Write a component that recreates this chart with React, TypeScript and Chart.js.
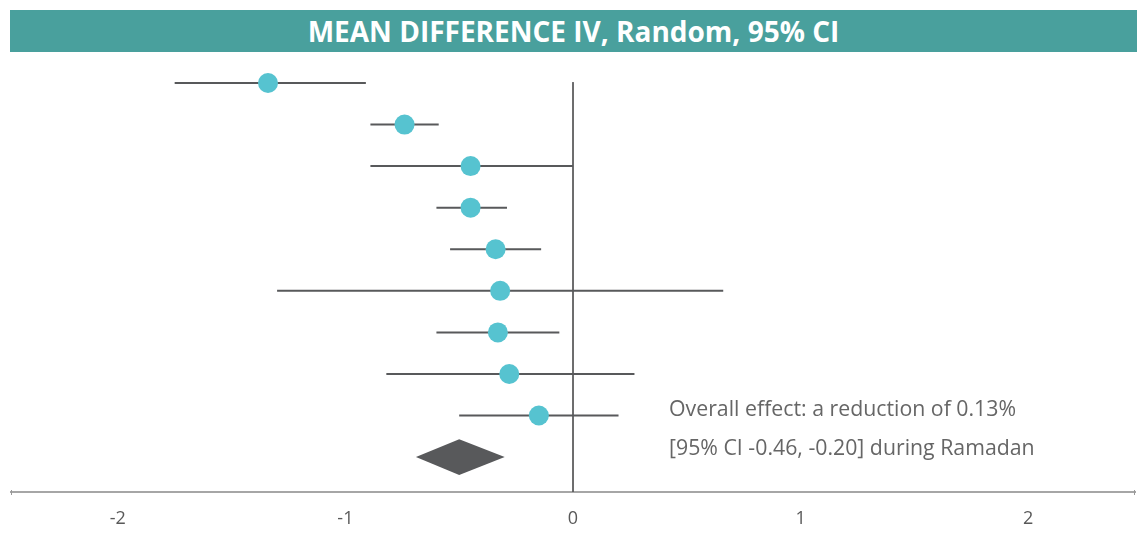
import React, { useEffect, useRef } from "react";
import { Chart, registerables } from "chart.js";

Chart.register(...registerables);

const titleText = "MEAN DIFFERENCE IV, Random, 95% CI";
const studyRows = [0, 1, 2, 3, 4, 5, 6, 7, 8];
const estimates = [-1.34, -0.74, -0.45, -0.45, -0.34, -0.32, -0.33, -0.28, -0.15];
const ciLow = [-1.75, -0.89, -0.89, -0.6, -0.54, -1.3, -0.6, -0.82, -0.5];
const ciHigh = [-0.91, -0.59, 0.0, -0.29, -0.14, 0.66, -0.06, 0.27, 0.2];
const overallRow = 9;
const overallEstimate = -0.5;
const overallLow = -0.69;
const overallHigh = -0.3;
const xTicks = [-2, -1, 0, 1, 2];
const noteLines = [
  "Overall effect: a reduction of 0.13%",
  "[95% CI -0.46, -0.20] during Ramadan",
];

const diamondPlugin = {
  id: "diamond",
  afterDatasetsDraw(chart: any) {
    const { ctx, scales } = chart;
    const xs = scales.x;
    const ys = scales.y;
    const yc = ys.getPixelForValue(overallRow);
    const half = Math.abs(ys.getPixelForValue(overallRow + 0.43) - yc);
    ctx.save();
    ctx.fillStyle = "#58595b";
    ctx.beginPath();
    ctx.moveTo(xs.getPixelForValue(overallLow), yc);
    ctx.lineTo(xs.getPixelForValue(overallEstimate), yc - half);
    ctx.lineTo(xs.getPixelForValue(overallHigh), yc);
    ctx.lineTo(xs.getPixelForValue(overallEstimate), yc + half);
    ctx.closePath();
    ctx.fill();
    const by = ys.bottom;
    ctx.strokeStyle = "#999";
    ctx.lineWidth = 1;
    ctx.beginPath();
    ctx.moveTo(xs.left + 0.5, by - 2);
    ctx.lineTo(xs.left + 0.5, by + 3);
    ctx.moveTo(xs.right - 0.5, by - 2);
    ctx.lineTo(xs.right - 0.5, by + 3);
    ctx.stroke();
    ctx.restore();
  },
};

export default function App() {
  const ref = useRef<HTMLCanvasElement | null>(null);
  useEffect(() => {
    document.body.style.margin = "0";
    const ciData: any[] = [];
    studyRows.forEach((r, i) => {
      ciData.push({ x: ciLow[i], y: r });
      ciData.push({ x: ciHigh[i], y: r });
      ciData.push({ x: ciHigh[i], y: null });
    });
    const chart = new Chart(ref.current as HTMLCanvasElement, {
      type: "scatter",
      data: {
        datasets: [
          {
            type: "scatter",
            data: studyRows.map((r, i) => ({ x: estimates[i], y: r })),
            backgroundColor: "#56c3d0",
            borderWidth: 0,
            pointRadius: 10,
            pointHoverRadius: 10,
            order: 0,
          },
          {
            type: "line",
            data: ciData,
            borderColor: "#58595b",
            borderWidth: 2,
            pointRadius: 0,
            spanGaps: false,
            showLine: true,
            order: 1,
          },
          {
            type: "line",
            data: [
              { x: 0, y: -0.02 },
              { x: 0, y: 9.84 },
            ],
            borderColor: "#58595b",
            borderWidth: 1,
            pointRadius: 0,
            showLine: true,
            order: 2,
          },
        ],
      },
      options: {
        responsive: false,
        animation: false,
        devicePixelRatio: 1,
        layout: { padding: { left: 11, right: 7, top: 62, bottom: 0 } },
        plugins: { legend: { display: false }, tooltip: { enabled: false } },
        scales: {
          x: {
            type: "linear",
            min: -2.469,
            max: 2.469,
            afterBuildTicks: (scale: any) => {
              scale.ticks = xTicks.map((v) => ({ value: v }));
            },
            afterFit: (scale: any) => {
              scale.height = 44;
            },
            grid: { display: false, drawTicks: false },
            border: { display: true, color: "#a6a6a6", width: 2 },
            ticks: {
              color: "#595959",
              font: { family: "Open Sans", size: 18 },
              padding: 16,
              callback: (v: any) => String(v),
            },
          },
          y: {
            type: "linear",
            display: false,
            reverse: true,
            min: -0.505,
            max: 9.84,
          },
        },
      },
      plugins: [diamondPlugin],
    });
    return () => chart.destroy();
  }, []);

  return (
    <div style={{ position: "fixed", left: 0, top: 0, width: 1145, height: 536, background: "#fff" }}>
      <canvas ref={ref} width={1145} height={536} style={{ position: "absolute", left: 0, top: 0 }} />
      <div
        style={{
          position: "absolute",
          left: 10,
          top: 10,
          width: 1127,
          height: 42,
          background: "#49a09d",
          color: "#fff",
          fontFamily: "Open Sans",
          fontWeight: 700,
          fontSize: 28,
          lineHeight: "42px",
          textAlign: "center",
        }}
      >
        {titleText}
      </div>
      {noteLines.map((t, i) => (
        <div
          key={i}
          style={{
            position: "absolute",
            left: 669,
            top: 394 + i * 39,
            color: "#666",
            fontFamily: "Open Sans",
            fontSize: 21.3,
            lineHeight: "28px",
            whiteSpace: "nowrap",
          }}
        >
          {t}
        </div>
      ))}
    </div>
  );
}
